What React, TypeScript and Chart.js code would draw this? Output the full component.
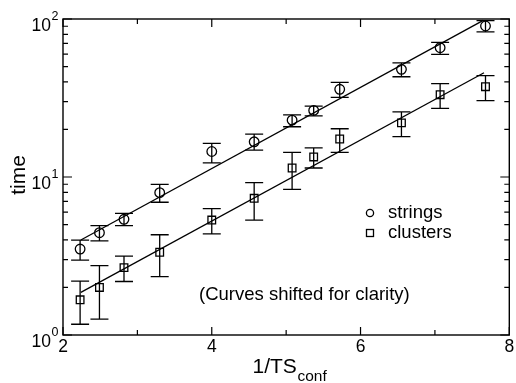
import React, { useEffect, useRef } from "react";
import { Chart, registerables } from "chart.js";

Chart.register(...registerables);

// ---- data ----
const xValues = [2.23, 2.49, 2.82, 3.3, 4.0, 4.57, 5.08, 5.37, 5.72, 6.55, 7.07, 7.68];

const stringsY = [3.5, 4.44, 5.4, 7.96, 14.5, 16.7, 22.9, 26.4, 35.9, 48.0, 65.8, 90.3];
const stringsLo = [2.98, 3.94, 4.92, 6.92, 12.3, 14.8, 20.8, 24.4, 31.9, 43.1, 59.8, 82.8];
const stringsHi = [3.99, 4.92, 5.89, 8.99, 16.3, 18.7, 24.7, 28.1, 39.7, 52.7, 71.2, 97.6];

const clustersY = [1.67, 2.0, 2.67, 3.34, 5.34, 7.33, 11.4, 13.4, 17.4, 22.0, 33.2, 37.3];
const clustersLo = [1.17, 1.26, 2.18, 2.34, 4.36, 5.34, 8.36, 11.4, 14.3, 18.0, 27.2, 30.4];
const clustersHi = [2.19, 2.75, 3.16, 4.31, 6.3, 9.2, 14.3, 15.3, 20.2, 25.8, 39.0, 43.8];

const stringsFitX = [2.24, 7.65];
const stringsFitY = [3.99, 98];
const clustersFitX = [2.24, 7.66];
const clustersFitY = [1.86, 45.7];

const xMajorTicks = [2, 4, 6, 8];
const xMinorTicks = [3, 5, 7];
const yMajorTicks = [1, 10, 100];
const yMajorExp = ["0", "1", "2"];
const yMinorTicks = [2, 3, 4, 5, 6, 7, 8, 9, 20, 30, 40, 50, 60, 70, 80, 90];

const legendLabels = ["strings", "clusters"];
const noteText = "(Curves shifted for clarity)";

const FONT = '"Liberation Sans", Arial, Helvetica, sans-serif';

const zip = (xs: number[], ys: number[]) => xs.map((x, i) => ({ x, y: ys[i] }));

const overlayPlugin = {
  id: "overlay",
  afterDatasetsDraw(chart: any) {
    const ctx = chart.ctx as CanvasRenderingContext2D;
    const { left, right, top, bottom } = chart.chartArea;
    const xs = chart.scales.x;
    const ys = chart.scales.y;
    ctx.save();
    ctx.strokeStyle = "#000";
    ctx.fillStyle = "#000";
    ctx.lineWidth = 1.3;

    // error bars
    const bars = (lo: number[], hi: number[]) => {
      const cap = 9;
      xValues.forEach((xv, i) => {
        const px = xs.getPixelForValue(xv);
        const pl = ys.getPixelForValue(lo[i]);
        const ph = ys.getPixelForValue(hi[i]);
        ctx.beginPath();
        ctx.moveTo(px, pl);
        ctx.lineTo(px, ph);
        ctx.moveTo(px - cap, pl);
        ctx.lineTo(px + cap, pl);
        ctx.moveTo(px - cap, ph);
        ctx.lineTo(px + cap, ph);
        ctx.stroke();
      });
    };
    bars(stringsLo, stringsHi);
    bars(clustersLo, clustersHi);

    // frame
    ctx.lineWidth = 1.4;
    ctx.strokeRect(left, top, right - left, bottom - top);

    // ticks
    ctx.lineWidth = 1.2;
    ctx.beginPath();
    const xt = (v: number, len: number) => {
      const p = xs.getPixelForValue(v);
      ctx.moveTo(p, bottom);
      ctx.lineTo(p, bottom - len);
      ctx.moveTo(p, top);
      ctx.lineTo(p, top + len);
    };
    const yt = (v: number, len: number) => {
      const p = ys.getPixelForValue(v);
      ctx.moveTo(left, p);
      ctx.lineTo(left + len, p);
      ctx.moveTo(right, p);
      ctx.lineTo(right - len, p);
    };
    xMajorTicks.forEach((v) => xt(v, 8));
    xMinorTicks.forEach((v) => xt(v, 5));
    yMajorTicks.forEach((v) => yt(v, 9));
    yMinorTicks.forEach((v) => yt(v, 5));
    ctx.stroke();

    // x tick labels
    ctx.font = `17.5px ${FONT}`;
    ctx.textAlign = "center";
    ctx.textBaseline = "alphabetic";
    xMajorTicks.forEach((v) => {
      ctx.fillText(String(v), xs.getPixelForValue(v), bottom + 17);
    });

    // y tick labels with superscripts
    yMajorTicks.forEach((v, i) => {
      const p = ys.getPixelForValue(v);
      ctx.font = `17.5px ${FONT}`;
      ctx.textAlign = "right";
      ctx.fillText("10", 51, p + 12);
      ctx.font = `12.5px ${FONT}`;
      ctx.textAlign = "left";
      ctx.fillText(yMajorExp[i], 51.5, p + 1);
    });

    // axis titles
    ctx.save();
    ctx.translate(25, 175);
    ctx.rotate(-Math.PI / 2);
    ctx.font = `21px ${FONT}`;
    ctx.textAlign = "center";
    ctx.textBaseline = "alphabetic";
    ctx.fillText("time", 0, 0);
    ctx.restore();

    ctx.font = `21px ${FONT}`;
    ctx.textAlign = "left";
    ctx.fillText("1/TS", 252.5, 373);
    ctx.font = `15.5px ${FONT}`;
    ctx.fillText("conf", 297.5, 381);

    // legend
    ctx.lineWidth = 1.3;
    ctx.beginPath();
    ctx.arc(370, 213, 3.6, 0, Math.PI * 2);
    ctx.stroke();
    ctx.strokeRect(366.5, 229.5, 7, 7);
    ctx.font = `18.5px ${FONT}`;
    ctx.textBaseline = "middle";
    ctx.fillText(legendLabels[0], 388, 213);
    ctx.fillText(legendLabels[1], 388, 233);

    // note
    ctx.fillText(noteText, 199, 295);

    ctx.restore();
  },
};

export default function App() {
  const ref = useRef<HTMLCanvasElement | null>(null);
  useEffect(() => {
    document.body.style.margin = "0";
    const canvas = ref.current!;
    const chart = new Chart(canvas, {
      type: "scatter",
      data: {
        datasets: [
          {
            label: "strings",
            data: zip(xValues, stringsY),
            pointStyle: "circle",
            pointRadius: 4.8,
            borderColor: "#000",
            backgroundColor: "rgba(0,0,0,0)",
            borderWidth: 1.3,
            showLine: false,
          },
          {
            label: "clusters",
            data: zip(xValues, clustersY),
            pointStyle: "rect",
            pointRadius: 5.4,
            borderColor: "#000",
            backgroundColor: "rgba(0,0,0,0)",
            borderWidth: 1.3,
            showLine: false,
          },
          {
            label: "strings fit",
            data: zip(stringsFitX, stringsFitY),
            showLine: true,
            pointRadius: 0,
            borderColor: "#000",
            borderWidth: 1.3,
          },
          {
            label: "clusters fit",
            data: zip(clustersFitX, clustersFitY),
            showLine: true,
            pointRadius: 0,
            borderColor: "#000",
            borderWidth: 1.3,
          },
        ],
      },
      options: {
        responsive: false,
        animation: false,
        layout: { padding: { left: 63, right: 2, top: 19, bottom: 48 } },
        plugins: { legend: { display: false }, tooltip: { enabled: false } },
        scales: {
          x: { type: "linear", min: 2, max: 8, display: false },
          y: { type: "logarithmic", min: 1, max: 100, display: false },
        },
      },
      plugins: [overlayPlugin],
    });
    return () => chart.destroy();
  }, []);
  return (
    <canvas
      ref={ref}
      width={516}
      height={383}
      style={{ display: "block", width: 516, height: 383, background: "#fff" }}
    />
  );
}
